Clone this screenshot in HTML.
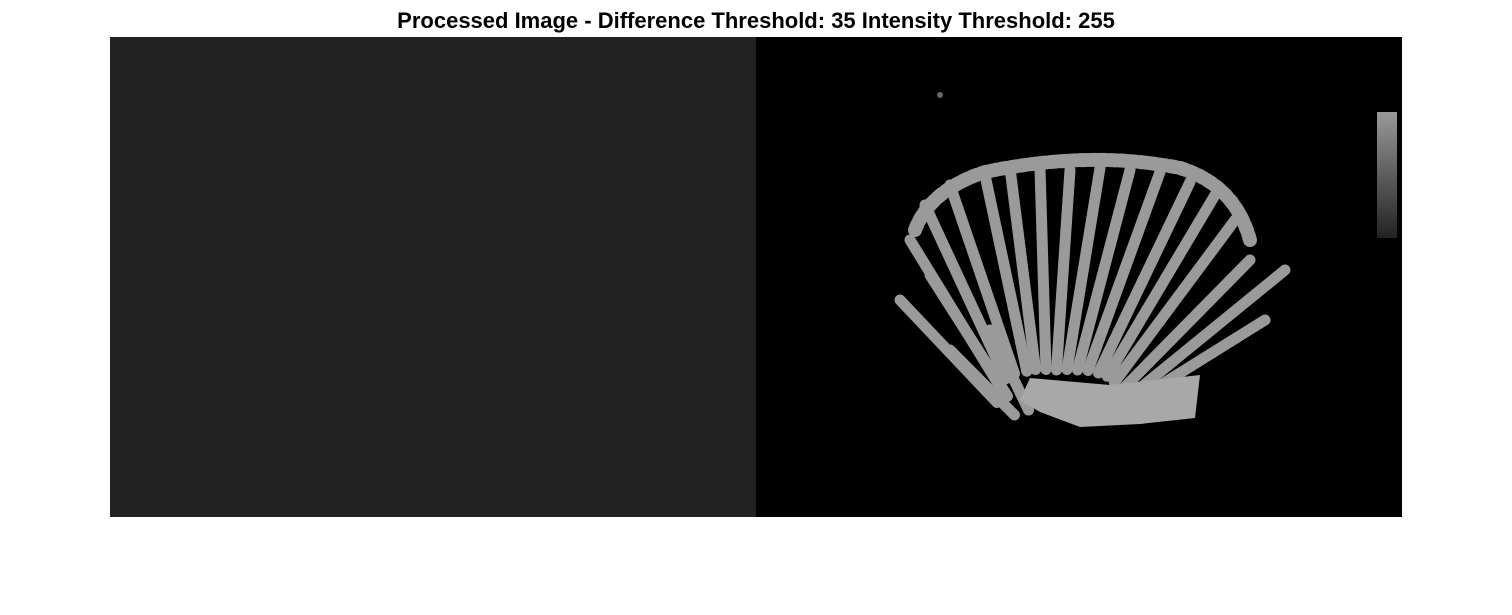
<!DOCTYPE html>
<html><head><meta charset="utf-8"><style>
html,body{margin:0;padding:0;background:#fff;}
body{width:1512px;height:615px;position:relative;overflow:hidden;font-family:"Liberation Sans",sans-serif;}
</style></head><body>
<div style="position:absolute;left:0;width:1512px;top:8px;text-align:center;font-weight:bold;font-size:22px;color:#000;">Processed Image - Difference Threshold: 35 Intensity Threshold: 255</div>
<svg style="position:absolute;left:0;top:0" width="1512" height="615">
<rect x="110" y="37" width="646" height="480" fill="#222"/>
<rect x="756" y="37" width="646" height="480" fill="#000"/>
<defs><linearGradient id="cb" x1="0" y1="0" x2="0" y2="1"><stop offset="0" stop-color="#999"/><stop offset="1" stop-color="#222"/></linearGradient></defs>
<rect x="1377" y="112" width="20" height="126" fill="url(#cb)"/>
<g stroke="#9a9a9a" stroke-linecap="round" fill="none" id="br"></g>
<polygon points="1030,378 1110,385 1200,375 1195,418 1140,424 1080,427 1040,412 1020,400" fill="#a8a8a8"/>
<circle cx="940" cy="95" r="3" fill="#666"/>
</svg>
<script>
const g=document.getElementById('br');
const tips=[[910,240],[925,205],[950,185],[985,175],[1010,168],[1040,168],[1070,170],[1100,168],[1130,170],[1160,172],[1190,182],[1215,195],[1235,220],[1250,260],[1285,270],[1265,320],[900,300],[950,350],[990,330],[930,275]];
tips.forEach((t,i)=>{
const l=document.createElementNS('http://www.w3.org/2000/svg','line');


const ox=1060+(t[0]-1080)*0.35, oy=390+(t[1]-250)*0.25;
l.setAttribute('x1',ox);l.setAttribute('y1',oy);
l.setAttribute('x2',t[0]);l.setAttribute('y2',t[1]);
l.setAttribute('stroke-width',11);
g.appendChild(l);});
const arc=document.createElementNS('http://www.w3.org/2000/svg','path');


arc.setAttribute('d','M915,230 Q930,190 985,172 Q1090,150 1180,168 Q1235,185 1250,240');
arc.setAttribute('stroke-width',14);arc.setAttribute('stroke-dasharray','6 4');
g.appendChild(arc);
</script>
</body></html>
